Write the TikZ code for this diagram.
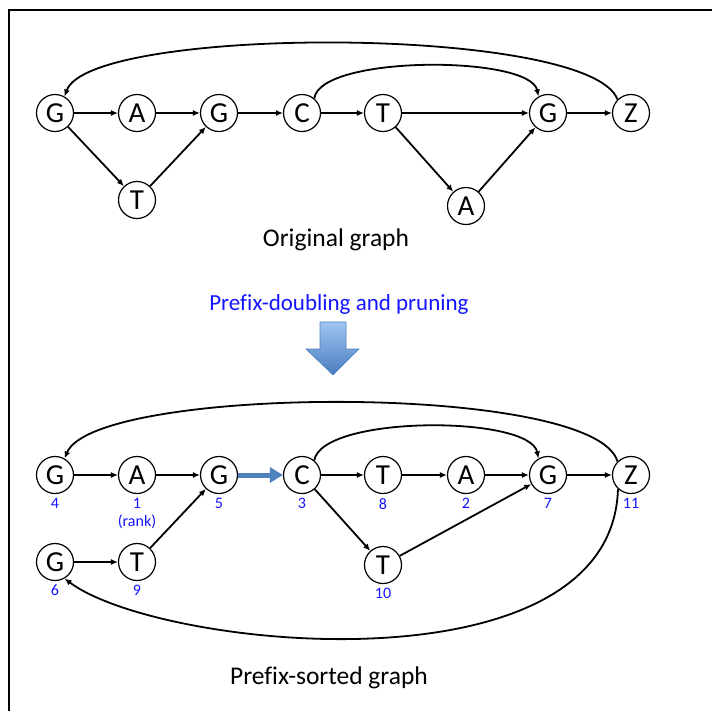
\documentclass[tikz,border=0pt]{standalone}
\usepackage{fontspec}
\setmainfont{Carlito}[Ligatures=NoCommon]
\usetikzlibrary{arrows.meta}
\definecolor{rankblue}{RGB}{20,20,255}
\definecolor{edgeblue}{RGB}{79,129,189}
\definecolor{arrowtop}{RGB}{160,198,243}
\definecolor{arrowbot}{RGB}{72,124,190}
\begin{document}
\begin{tikzpicture}[x=1pt,y=-1pt,
  vtx/.style={circle,draw,line width=1.2pt,minimum size=37pt,inner sep=0pt,
    font=\fontsize{29}{29}\selectfont},
  edge/.style={line width=1.8pt,-{Latex[length=7pt,width=6pt]}},
  rk/.style={text=rankblue,font=\fontsize{16}{16}\selectfont},
  caption/.style={font=\fontsize{25.5}{25.5}\selectfont}]
\useasboundingbox (0,0) rectangle (712,710);
% frame
\draw[line width=2pt] (9,711) -- (9,10) -- (712,10);

% original graph
\node[vtx] (g1) at (55,113) {G};
\node[vtx] (a1) at (137,113) {A};
\node[vtx] (g2) at (219,113) {G};
\node[vtx] (c1) at (302,113) {C};
\node[vtx] (t1) at (383,113) {T};
\node[vtx] (g3) at (548,113) {G};
\node[vtx] (z1) at (631,113) {Z};
\node[vtx] (t2) at (137,200) {T};
\node[vtx] (a2) at (466,206) {A};
\draw[edge] (g1) -- (a1);
\draw[edge] (a1) -- (g2);
\draw[edge] (g2) -- (c1);
\draw[edge] (c1) -- (t1);
\draw[edge] (t1) -- (g3);
\draw[edge] (g3) -- (z1);
\draw[edge] (g1) -- (t2);
\draw[edge] (t2) -- (g2);
\draw[edge] (t1) -- (a2);
\draw[edge] (a2) -- (g3);
\draw[edge] (z1.135) .. controls (590,25) and (90,25) .. (g1.60);
\draw[edge] (c1.50) .. controls (320,55) and (530,55) .. (g3.120);
\node[caption] (cap1) at (336,240) {Original graph};

% transformation step
\node[caption,text=rankblue,font=\fontsize{23}{23}\selectfont] (step) at (339,304) {Prefix-doubling and pruning};
\draw[draw=edgeblue,line width=0.6pt,top color=arrowtop,bottom color=arrowbot]
  (320,322) -- (346,322) -- (346,349) -- (359,349) -- (333,375)
  -- (306,349) -- (320,349) -- cycle;

% prefix-sorted graph
\node[vtx] (p4) at (55,475) {G};
\node[vtx] (p1) at (137,475) {A};
\node[vtx] (p5) at (219,475) {G};
\node[vtx] (p3) at (302,475) {C};
\node[vtx] (p8) at (383,475) {T};
\node[vtx] (p2) at (466,475) {A};
\node[vtx] (p7) at (548,475) {G};
\node[vtx] (p11) at (631,475) {Z};
\node[vtx] (p6) at (55,562) {G};
\node[vtx] (p9) at (137,562) {T};
\node[vtx] (p10) at (383,565) {T};
\foreach \n/\r in {p4/4,p1/1,p5/5,p3/3,p8/8,p2/2,p7/7,p11/11,p6/6,p9/9,p10/10}
  \node[rk,below=0.5pt] at (\n.south) {\r};
\node[rk] (rank) at (137,522) {(rank)};
\draw[edge] (p4) -- (p1);
\draw[edge] (p1) -- (p5);
\draw[line width=5pt,edgeblue,-{Triangle[length=13pt,width=15pt]}] (p5) -- (p3);
\draw[edge] (p3) -- (p8);
\draw[edge] (p8) -- (p2);
\draw[edge] (p2) -- (p7);
\draw[edge] (p7) -- (p11);
\draw[edge] (p3) -- (p10);
\draw[edge] (p10) -- (p7);
\draw[edge] (p6) -- (p9);
\draw[edge] (p9) -- (p5);
\draw[edge] (p11.135) .. controls (595,382) and (95,385) .. (p4.60);
\draw[edge] (p3.50) .. controls (322,415) and (530,415) .. (p7.120);
\draw[edge] (p11.-133) .. controls (612,695) and (160,650) .. (p6.-60);
\node[caption] (cap2) at (329,678) {Prefix-sorted graph};
\end{tikzpicture}
\end{document}
